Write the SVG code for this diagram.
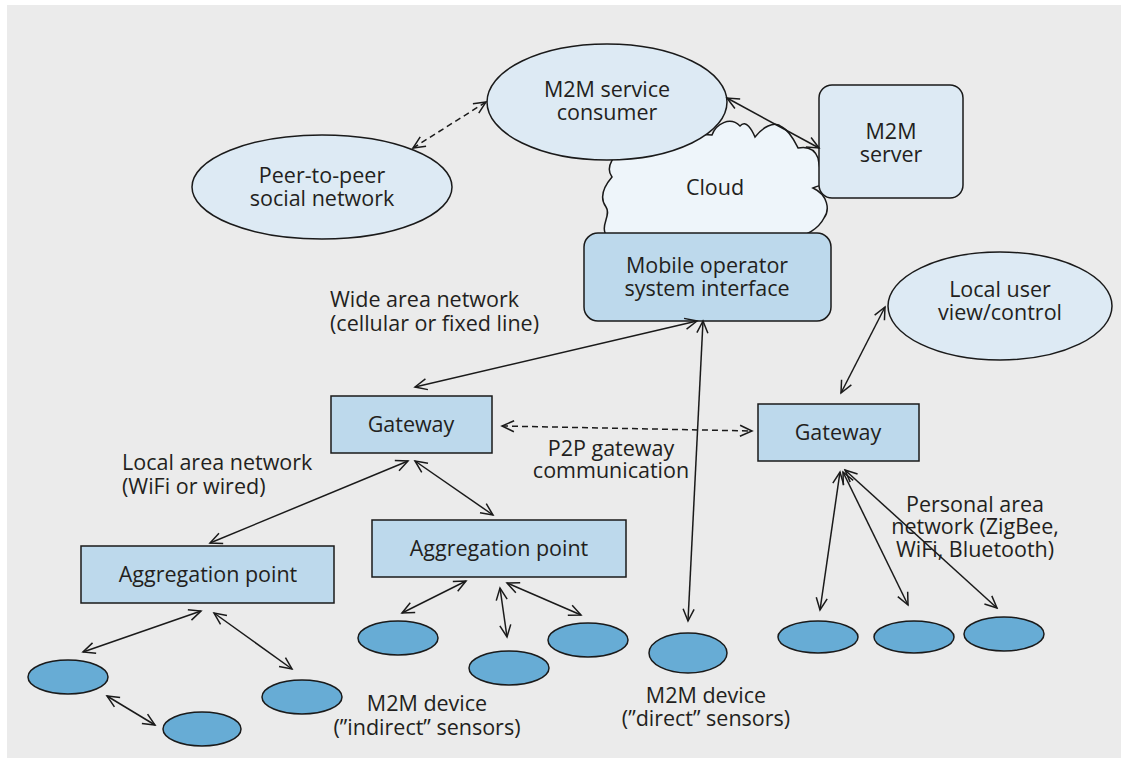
<svg xmlns="http://www.w3.org/2000/svg" width="1121" height="758" viewBox="0 0 1121 758">
<defs>
<marker id="ah" viewBox="-1 -7 15 14" refX="12" refY="0" markerWidth="15" markerHeight="14" markerUnits="userSpaceOnUse" orient="auto-start-reverse">
<path d="M0,-5.5 L12,0 L0,5.5" fill="none" stroke="#1a1a1a" stroke-width="1.5"/>
</marker>
</defs>
<style>
text{font-family:"Open Sans","Noto Sans","Liberation Sans",sans-serif;font-size:21.5px;fill:#231f20}
.c{text-anchor:middle}
.light{fill:#ddeaf4;stroke:#1a1a1a;stroke-width:1.5}
.box{fill:#bdd9ec;stroke:#1a1a1a;stroke-width:1.5}
.dev{fill:#67acd5;stroke:#1a1a1a;stroke-width:1.5}
.ln{fill:none;stroke:#1a1a1a;stroke-width:1.5;marker-start:url(#ah);marker-end:url(#ah)}
.dash{stroke-dasharray:6,4}
</style>
<rect x="0" y="0" width="1121" height="758" fill="#ffffff"/>
<rect x="7" y="5" width="1114" height="753" fill="#ebebeb"/>

<g id="cloud">
<path d="M608,238 C598,226 612,216 606,207 C598,196 606,184 612,177 C604,166 616,154 622,150 L640,140 C660,132 690,134 712,135 C716,124 730,116 740,126 C746,119 752,130 755,137 C762,128 774,120 782,127 C790,131 795,142 798,148 C808,146 815,150 818,158 L822,180 C830,185 822,184 813,188 C828,195 830,210 824,218 C818,230 805,235 797,238 Z" fill="#eef5fa" stroke="#1a1a1a" stroke-width="1.5"/>
<text class="c" x="715" y="195">Cloud</text>
</g>

<g id="peer">
<ellipse class="light" cx="322" cy="187" rx="130" ry="52"/>
<text class="c" x="322" y="183">Peer-to-peer<tspan x="322" dy="23">social network</tspan></text>
</g>

<g id="consumer">
<ellipse class="light" cx="607" cy="102" rx="120" ry="58"/>
<text class="c" x="607" y="97">M2M service<tspan x="607" dy="23">consumer</tspan></text>
</g>

<g id="server">
<rect class="light" x="819" y="85" width="144" height="113" rx="13"/>
<text class="c" x="891" y="139">M2M<tspan x="891" dy="23">server</tspan></text>
</g>

<g id="mobile">
<rect class="box" x="584" y="233" width="247" height="88" rx="14"/>
<text class="c" x="707" y="273">Mobile operator<tspan x="707" dy="23">system interface</tspan></text>
</g>

<g id="localuser">
<ellipse class="light" cx="1000" cy="306" rx="112" ry="54"/>
<text class="c" x="1000" y="297">Local user<tspan x="1000" dy="23">view/control</tspan></text>
</g>

<g id="gateway1">
<rect class="box" x="331" y="396" width="161" height="57"/>
<text class="c" x="411" y="432">Gateway</text>
</g>

<g id="gateway2">
<rect class="box" x="758" y="404" width="161" height="57"/>
<text class="c" x="838" y="440">Gateway</text>
</g>

<g id="agg1">
<rect class="box" x="81" y="546" width="253" height="57"/>
<text class="c" x="208" y="582">Aggregation point</text>
</g>

<g id="agg2">
<rect class="box" x="372" y="520" width="254" height="57"/>
<text class="c" x="499" y="556">Aggregation point</text>
</g>

<g id="devices">
<ellipse class="dev" cx="68" cy="677" rx="40" ry="17"/>
<ellipse class="dev" cx="202" cy="729" rx="39" ry="17"/>
<ellipse class="dev" cx="302" cy="697" rx="40" ry="17"/>
<ellipse class="dev" cx="398" cy="638" rx="40" ry="17"/>
<ellipse class="dev" cx="509" cy="668" rx="40" ry="17"/>
<ellipse class="dev" cx="588" cy="640" rx="40" ry="17"/>
<ellipse class="dev" cx="688" cy="653" rx="39" ry="20"/>
<ellipse class="dev" cx="818" cy="637" rx="40" ry="16"/>
<ellipse class="dev" cx="914" cy="637" rx="40" ry="16"/>
<ellipse class="dev" cx="1004" cy="634" rx="40" ry="17"/>
</g>

<g id="connectors">
<line class="ln dash" x1="413" y1="148" x2="486" y2="102"/>
<line class="ln" x1="727" y1="98" x2="819" y2="148"/>
<line class="ln" x1="415" y1="387" x2="697" y2="321"/>
<line class="ln dash" x1="502" y1="426" x2="752" y2="431"/>
<line class="ln" x1="703" y1="321" x2="688" y2="621"/>
<line class="ln" x1="885" y1="307" x2="841" y2="393"/>
<line class="ln" x1="408" y1="461" x2="210" y2="543"/>
<line class="ln" x1="415" y1="461" x2="493" y2="515"/>
<line class="ln" x1="201" y1="611" x2="83" y2="652"/>
<line class="ln" x1="214" y1="613" x2="292" y2="669"/>
<line class="ln" x1="107" y1="696" x2="155" y2="725"/>
<line class="ln" x1="466" y1="581" x2="402" y2="613"/>
<line class="ln" x1="500" y1="588" x2="507" y2="637"/>
<line class="ln" x1="507" y1="583" x2="581" y2="615"/>
<line class="ln" x1="840" y1="472" x2="820" y2="610"/>
<line class="ln" x1="843" y1="472" x2="908" y2="605"/>
<line class="ln" x1="845" y1="470" x2="997" y2="608"/>
</g>

<g id="labels">
<text x="330" y="307">Wide area network<tspan x="330" dy="24">(cellular or fixed line)</tspan></text>
<text class="c" x="611" y="456">P2P gateway<tspan x="611" dy="22">communication</tspan></text>
<text x="122" y="470">Local area network<tspan x="122" dy="24">(WiFi or wired)</tspan></text>
<text class="c" x="975" y="512">Personal area<tspan x="975" dy="22">network (ZigBee,</tspan><tspan x="975" dy="23">WiFi, Bluetooth)</tspan></text>
<text class="c" x="427" y="711">M2M device<tspan x="427" dy="24">(”indirect” sensors)</tspan></text>
<text class="c" x="706" y="703">M2M device<tspan x="706" dy="23">(”direct” sensors)</tspan></text>
</g>
</svg>
